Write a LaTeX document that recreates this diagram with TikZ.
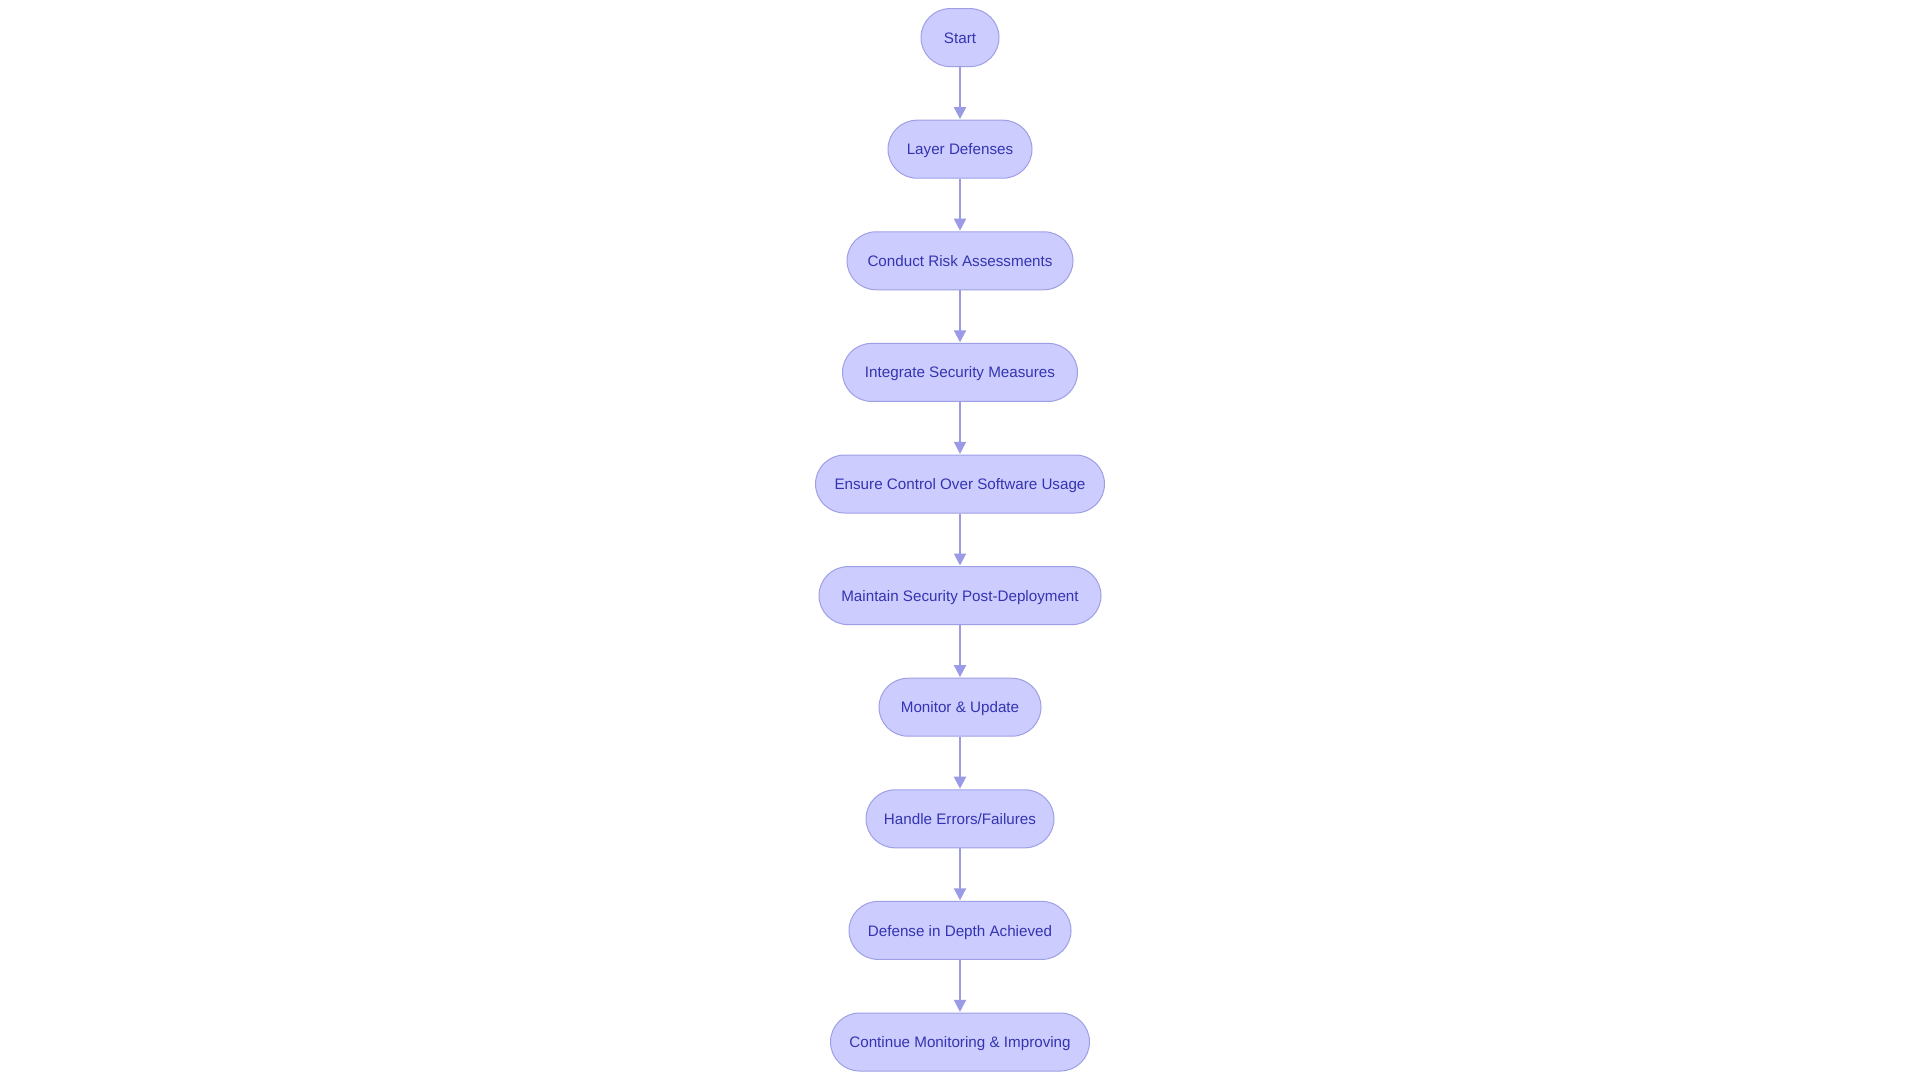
\documentclass[tikz,border=0pt]{standalone}
\usepackage{fontspec}
\setmainfont{Liberation Sans}
\usetikzlibrary{arrows.meta}
\definecolor{nodefill}{HTML}{CCCCFF}
\definecolor{nodeborder}{HTML}{9F9FE6}
\definecolor{nodetext}{HTML}{3434B0}
\definecolor{arrowcol}{HTML}{9A9AE6}
\begin{document}
\begin{tikzpicture}[x=1pt,y=1pt,
  flownode/.style={draw=nodeborder, fill=nodefill, line width=0.5pt,
    rounded corners=14.5pt, minimum height=29pt, inner sep=0pt,
    text height=6.6pt, text depth=1pt,
    text=nodetext, font=\fontsize{7.6}{9}\selectfont},
  flowarrow/.style={draw=arrowcol, line width=1pt,
    -{Triangle[length=6pt,width=6pt]}, shorten >=0.3pt}]
\fill[white] (0,0) rectangle (960,-540);
\useasboundingbox (0,0) rectangle (960,-540);
\node[flownode, minimum width=39pt]    (n1)  at (480,-18.8)  {Start};
\node[flownode, minimum width=72pt]    (n2)  at (480,-74.6)  {Layer Defenses};
\node[flownode, minimum width=113pt]   (n3)  at (480,-130.4) {Conduct Risk Assessments};
\node[flownode, minimum width=117.5pt] (n4)  at (480,-186.2) {Integrate Security Measures};
\node[flownode, minimum width=144.5pt] (n5)  at (480,-242)   {Ensure Control Over Software Usage};
\node[flownode, minimum width=141pt]   (n6)  at (480,-297.8) {Maintain Security Post-Deployment};
\node[flownode, minimum width=81pt]    (n7)  at (480,-353.6) {Monitor \& Update};
\node[flownode, minimum width=94pt]    (n8)  at (480,-409.4) {Handle Errors/Failures};
\node[flownode, minimum width=111pt]   (n9)  at (480,-465.2) {Defense in Depth Achieved};
\node[flownode, minimum width=129.5pt] (n10) at (480,-521)   {Continue Monitoring \& Improving};
\foreach \a/\b in {n1/n2,n2/n3,n3/n4,n4/n5,n5/n6,n6/n7,n7/n8,n8/n9,n9/n10}
  \draw[flowarrow] (\a.south) -- (\b.north);
\end{tikzpicture}
\end{document}
